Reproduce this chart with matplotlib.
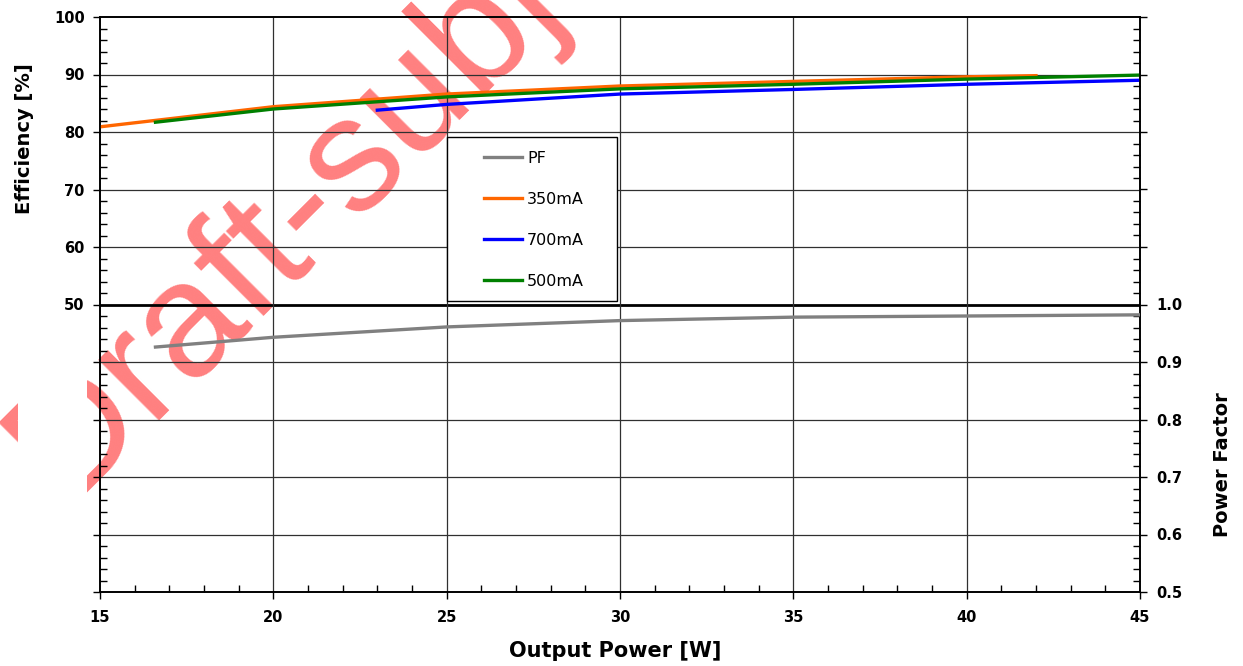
import matplotlib
matplotlib.use("Agg")
import matplotlib.pyplot as plt
from matplotlib.ticker import MultipleLocator, FuncFormatter
from matplotlib.patches import Rectangle

# efficiency curves (output power W, efficiency %)
power_350 = [15.0, 20, 25, 30, 35, 40, 42]
eff_350 = [80.9, 84.4, 86.6, 88.0, 88.8, 89.6, 89.8]

power_500 = [16.6, 20, 25, 30, 35, 40, 45]
eff_500 = [81.7, 84.0, 86.1, 87.5, 88.3, 89.2, 89.9]

power_700 = [23.0, 25, 30, 35, 40, 45]
eff_700 = [83.8, 84.8, 86.6, 87.4, 88.3, 89.0]

# power factor
power_pf = [16.6, 20, 25, 30, 35, 40, 45]
pf = [0.926, 0.943, 0.961, 0.972, 0.978, 0.980, 0.982]

W, H = 1243, 666
fig = plt.figure(figsize=(W / 100, H / 100), dpi=100)
fig.patch.set_facecolor("white")

# watermark behind the chart
fig.text(69 / W, 1 - 511 / H, "Draft-subject to change", family=["Liberation Sans", "DejaVu Sans"],
         fontsize=117, color="#FF8080", rotation=45, rotation_mode="anchor",
         ha="left", va="baseline", zorder=-2)
fig.patches.append(Rectangle((18 / W, 0), (87 - 18) / W, 1, transform=fig.transFigure,
                             facecolor="white", edgecolor="none", zorder=-1))

ax = fig.add_axes([100 / W, 1 - 592 / H, 1040 / W, 575 / H])
ax.patch.set_visible(False)
ax2 = ax.twinx()
ax2.patch.set_visible(False)

ax.set_xlim(15, 45)
ax.set_ylim(0, 100)
ax2.set_ylim(0.5, 1.5)

# grid
for y in range(10, 100, 10):
    if y == 50:
        ax.axhline(y, color="black", lw=2.0, zorder=1)
    else:
        ax.axhline(y, color="#303030", lw=0.9, zorder=1)
for x in range(20, 45, 5):
    ax.axvline(x, color="#303030", lw=0.9, zorder=1)

l_pf, = ax2.plot(power_pf, pf, color="#808080", lw=2.4, label="PF", zorder=3)
l350, = ax.plot(power_350, eff_350, color="#FF6600", lw=2.4, label="350mA", zorder=3)
l700, = ax.plot(power_700, eff_700, color="#0000FF", lw=2.4, label="700mA", zorder=3)
l500, = ax.plot(power_500, eff_500, color="#008000", lw=2.4, label="500mA", zorder=3)

ax.xaxis.set_major_locator(MultipleLocator(5))
ax.xaxis.set_minor_locator(MultipleLocator(1))
ax.yaxis.set_major_locator(MultipleLocator(10))
ax.yaxis.set_minor_locator(MultipleLocator(2))
ax.yaxis.set_major_formatter(FuncFormatter(lambda v, p: f"{v:.0f}" if v >= 50 else ""))
ax2.yaxis.set_major_locator(MultipleLocator(0.1))
ax2.yaxis.set_minor_locator(MultipleLocator(0.02))
ax2.yaxis.set_major_formatter(FuncFormatter(lambda v, p: f"{v:.1f}" if v <= 1.001 else ""))

ax.tick_params(which="major", direction="out", length=5, width=1, pad=6)
ax.tick_params(axis="x", which="major", pad=8)
ax.tick_params(which="minor", direction="in", length=5, width=1)
ax2.tick_params(which="major", direction="out", length=5, width=1, pad=7)
ax2.tick_params(which="minor", direction="in", length=5, width=1)
for lab in ax.get_xticklabels() + ax.get_yticklabels() + ax2.get_yticklabels():
    lab.set_fontweight("bold")
    lab.set_fontsize(10.5)

for a in (ax, ax2):
    for s in a.spines.values():
        s.set_linewidth(1.2)
        s.set_color("black")

label_font = dict(fontsize=14, fontweight="bold")
fig.text(615 / W, 1 - 651 / H, "Output Power [W]", ha="center", va="center",
         fontsize=15, fontweight="bold")
fig.text(25 / W, 1 - 139 / H, "Efficiency [%]", rotation=90, ha="center", va="center", **label_font)
fig.text(1222 / W, 1 - 465 / H, "Power Factor", rotation=90, ha="center", va="center", **label_font)

# legend box
ax2.add_patch(Rectangle((447 / W, 1 - 301 / H), 170 / W, 164 / H, transform=fig.transFigure,
                        facecolor="white", edgecolor="black", lw=1.0, zorder=4, clip_on=False))
leg = ax2.legend(handles=[l_pf, l350, l700, l500], loc="upper left",
                 bbox_to_anchor=(484 / W, 1 - 151 / H), bbox_transform=fig.transFigure,
                 borderaxespad=0, borderpad=0, fontsize=11.5, frameon=False,
                 handlelength=2.4, handletextpad=0.3, labelspacing=1.62)
leg.set_zorder(5)

fig.savefig("out.png", dpi=100)
